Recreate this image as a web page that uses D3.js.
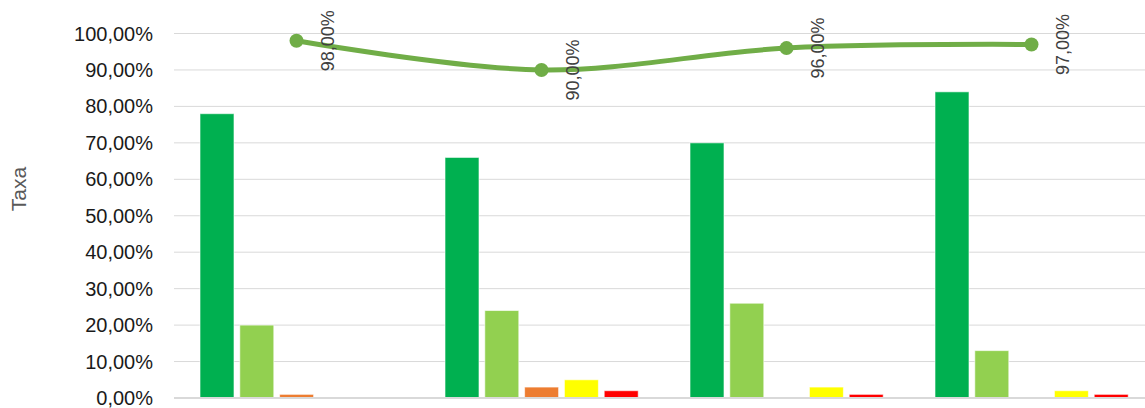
<!DOCTYPE html>
<html>
<head>
<meta charset="utf-8">
<script src="https://cdn.jsdelivr.net/npm/d3@7"></script>
<style>
	html, body { margin: 0; padding: 0; background: #fff; overflow: hidden; }
	svg { display: block; font-family: "Liberation Sans", Arial, sans-serif; }
</style>
</head>
<body>
<div id="chart"></div>
<script>
const categories = ["G1", "G2", "G3", "G4"]
const series = ["S1", "S2", "S3", "S4", "S5"]
const colors = ["#00b050", "#92d050", "#ed7d31", "#ffff00", "#ff0000"]

// bar values per series, one entry per category
const barValues = [
	[0.78, 0.66, 0.70, 0.84],
	[0.20, 0.24, 0.26, 0.13],
	[0.01, 0.03, 0.00, 0.00],
	[0.00, 0.05, 0.03, 0.02],
	[0.00, 0.02, 0.01, 0.01]
]
const lineValues = [0.98, 0.90, 0.96, 0.97]
const yTicks = [0, 0.1, 0.2, 0.3, 0.4, 0.5, 0.6, 0.7, 0.8, 0.9, 1.0]

const width = 1145, height = 408
const margin = {left: 174, top: 33.5, bottom: 10}
const plotRight = 1154

const pct = d3.formatLocale({decimal: ",", thousands: ".", grouping: [3], currency: ["", ""]}).format(".2%")

const svg = d3.select("#chart")
	.append("svg")
	.attr("width", width)
	.attr("height", height)

const x0 = d3.scaleBand(categories, [margin.left, plotRight])
const x1 = d3.scaleBand(series, [26, 219.2]).paddingInner(0.146)
const y = d3.scaleLinear([0, 1], [height - margin.bottom, margin.top])

// gridlines
svg.append("g")
	.selectAll("line")
	.data(yTicks.slice(1))
	.join("line")
	.attr("x1", margin.left)
	.attr("x2", plotRight)
	.attr("y1", d => y(d))
	.attr("y2", d => y(d))
	.attr("stroke", "#d9d9d9")
	.attr("stroke-width", 1)

// y axis labels
svg.append("g")
	.selectAll("text")
	.data(yTicks)
	.join("text")
	.attr("x", 153)
	.attr("y", d => y(d))
	.attr("dy", "0.35em")
	.attr("text-anchor", "end")
	.attr("font-size", 20)
	.attr("fill", "#1a1a1a")
	.text(d => pct(d))

svg.append("text")
	.attr("transform", `translate(26,189) rotate(-90)`)
	.attr("text-anchor", "middle")
	.attr("font-size", 21)
	.attr("fill", "#595959")
	.text("Taxa")

// bars
svg.append("g")
	.selectAll("g")
	.data(categories)
	.join("g")
	.attr("transform", d => `translate(${x0(d)},0)`)
	.selectAll("rect")
	.data((d, i) => series.map((s, j) => ({s, j, v: barValues[j][i]})))
	.join("rect")
	.attr("x", d => x1(d.s))
	.attr("width", x1.bandwidth())
	.attr("y", d => y(d.v))
	.attr("height", d => y(0) - y(d.v))
	.attr("fill", d => colors[d.j])
	.attr("stroke", "#ffffff")
	.attr("stroke-opacity", 0.6)
	.attr("stroke-width", 1)

// baseline
svg.append("line")
	.attr("x1", margin.left)
	.attr("x2", plotRight)
	.attr("y1", y(0))
	.attr("y2", y(0))
	.attr("stroke", "#d9d9d9")
	.attr("stroke-width", 2)

// line series
const cx = d => x0(d) + x0.bandwidth() / 2
const line = d3.line()
	.x((d, i) => cx(categories[i]))
	.y(d => y(d))
	.curve(d3.curveCatmullRom.alpha(0.5))

svg.append("path")
	.datum(lineValues)
	.attr("fill", "none")
	.attr("stroke", "#70ad47")
	.attr("stroke-width", 5)
	.attr("stroke-linecap", "round")
	.attr("d", line)

svg.append("g")
	.selectAll("circle")
	.data(lineValues)
	.join("circle")
	.attr("cx", (d, i) => cx(categories[i]))
	.attr("cy", d => y(d))
	.attr("r", 7)
	.attr("fill", "#70ad47")

svg.append("g")
	.selectAll("text")
	.data(lineValues)
	.join("text")
	.attr("transform", (d, i) => `translate(${cx(categories[i]) + 31},${y(d)}) rotate(-90)`)
	.attr("text-anchor", "middle")
	.attr("dy", "0.35em")
	.attr("font-size", 18)
	.attr("fill", "#404040")
	.text(d => pct(d))
</script>
</body>
</html>
